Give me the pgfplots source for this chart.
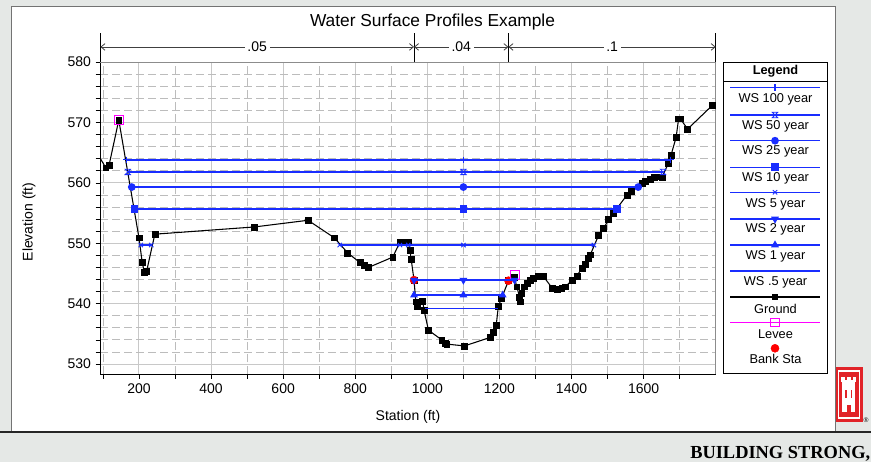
\documentclass[border=0pt]{standalone}
\usepackage{fontspec}
\setmainfont{Liberation Sans}
\newfontfamily\serifbold{Liberation Serif}
\usepackage{pgfplots}
\pgfplotsset{compat=1.18}
\usepackage{pgfplotstable}
\usetikzlibrary{arrows.meta}

\definecolor{bg}{RGB}{229,232,230}
\definecolor{wsblue}{RGB}{25,45,255}
\definecolor{leveec}{RGB}{255,0,255}
\definecolor{gridmaj}{RGB}{200,200,200}
\definecolor{gridmin}{RGB}{188,188,188}
\definecolor{logored}{RGB}{225,35,40}

\pgfdeclareplotmark{hourglass}{%
  \pgfpathmoveto{\pgfqpoint{-\pgfplotmarksize}{\pgfplotmarksize}}%
  \pgfpathlineto{\pgfqpoint{\pgfplotmarksize}{\pgfplotmarksize}}%
  \pgfpathlineto{\pgfqpoint{-\pgfplotmarksize}{-\pgfplotmarksize}}%
  \pgfpathlineto{\pgfqpoint{\pgfplotmarksize}{-\pgfplotmarksize}}%
  \pgfpathclose
  \pgfusepathqstroke}

\pgfplotstableread{
x y
93 564.0
108 562.5
117 562.9
144 570.4
200 550.9
209 546.8
215 545.2
221 545.3
244 551.5
521 552.7
669 553.8
742 550.9
779 548.4
813 546.8
824 546.4
837 546.0
904 547.7
924 550.2
938 550.2
947 550.2
952 548.8
955 547.4
963 543.9
968 540.3
972 539.5
987 540.4
991 538.9
1003 535.6
1040 534.0
1049 533.5
1054 533.3
1103 533.0
1174 534.4
1183 535.3
1191 536.4
1197 539.6
1206 540.9
1225 543.8
1242 544.3
1248 542.8
1256 541.1
1258 540.3
1262 541.7
1269 542.8
1276 543.4
1285 543.9
1295 544.2
1308 544.5
1322 544.5
1346 542.6
1360 542.4
1373 542.5
1383 542.8
1401 543.9
1415 544.6
1429 545.9
1438 546.5
1447 547.5
1452 548.1
1475 551.3
1489 552.5
1503 553.9
1515 554.9
1554 558.0
1565 558.6
1595 560.0
1604 560.2
1619 560.6
1630 560.9
1644 561.0
1651 560.9
1669 563.3
1676 564.6
1690 567.5
1697 570.6
1702 570.6
1722 568.9
1790 572.8
1800 573.3
}\ground

\begin{document}
\begin{tikzpicture}[x=0.75pt,y=0.75pt]
\useasboundingbox (0,0) rectangle (871,462);
\fill[bg] (0,0) rectangle (871,462);
% logo
\fill[logored] (830,40) rectangle (863,95);
\draw[white, line width=0.9pt] (838.5,44) rectangle (859.5,91);
\fill[white] (842,50) rectangle (855,80);
\fill[white] (841,80) rectangle (856,85);
\fill[logored] (844.5,82) rectangle (846.5,85);
\fill[logored] (850.5,82) rectangle (852.5,85);
\fill[logored] (846.5,50) rectangle (850.5,57);
\fill[logored] (845,64) rectangle (846.5,72);
\fill[logored] (850.5,64) rectangle (852,72);
\node[font=\fontsize{5}{6}\selectfont, inner sep=0pt] at (866,42) {®};
% panel
\fill[white, draw=black!55, line width=0.6pt] (11,30) rectangle (835,456);
\draw[black!85, line width=0.8pt] (0,30) -- (871,30);
\node[anchor=base west, inner sep=0pt, font=\serifbold\bfseries\fontsize{13.8}{15}\selectfont] at (690,4) {BUILDING STRONG,};
% titles
\node[font=\fontsize{13}{15}\selectfont] at (432.5,440) {Water Surface Profiles Example};
\node[font=\fontsize{10.5}{12}\selectfont] at (408,45) {Station (ft)};
\node[rotate=90, font=\fontsize{10.5}{12}\selectfont] at (29,240) {Elevation (ft)};

\begin{axis}[
  at={(75.3pt,65.775pt)}, anchor=south west,
  scale only axis, width=461.5pt, height=234.2pt,
  xmin=93, xmax=1800, ymin=528.3, ymax=580,
  xtick={200,400,...,1600}, minor xtick={100,300,...,1700},
  ytick={530,540,...,580},
  minor ytick={532,534,536,538,542,544,546,548,552,554,556,558,562,564,566,568,572,574,576,578},
  tick pos=left, tick align=outside,
  major tick length=3.5pt, minor tick length=3.5pt,
  tick style={black, line width=0.5pt},
  grid=both,
  major grid style={gridmaj, line width=0.75pt},
  minor grid style={gridmin, line width=0.6pt, dash pattern=on 6pt off 3pt},
  axis line style={draw=none},
  ticklabel style={font=\fontsize{10.5}{12}\selectfont},
  /pgf/number format/assume math mode=true,
  /pgf/number format/1000 sep={},
  clip mode=individual,
]
\draw[black, line width=0.6pt] (rel axis cs:0,1) -- (rel axis cs:0,0) -- (rel axis cs:1,0);
\draw[black!45, line width=0.6pt] (rel axis cs:0,1) -- (rel axis cs:1,1) -- (rel axis cs:1,0);
% Manning's n annotation
\draw[black, line width=0.6pt] (axis cs:93,580) -- (axis cs:93,584.8);
\draw[black, line width=0.6pt] (axis cs:963,580) -- (axis cs:963,584.8);
\draw[black, line width=0.6pt] (axis cs:1225,580) -- (axis cs:1225,584.8);
\draw[black, line width=0.6pt] (axis cs:1800,580) -- (axis cs:1800,584.8);
\draw[black!75, line width=0.6pt, {Straight Barb[length=3pt,width=5pt]}-{Straight Barb[length=3pt,width=5pt]}]
  (axis cs:93,582.5) -- node[fill=white, inner sep=2pt, text=black, font=\fontsize{10.5}{12}\selectfont] {.05} (axis cs:963,582.5);
\draw[black!75, line width=0.6pt, {Straight Barb[length=3pt,width=5pt]}-{Straight Barb[length=3pt,width=5pt]}]
  (axis cs:963,582.5) -- node[fill=white, inner sep=2pt, text=black, font=\fontsize{10.5}{12}\selectfont] {.04} (axis cs:1225,582.5);
\draw[black!75, line width=0.6pt, {Straight Barb[length=3pt,width=5pt]}-{Straight Barb[length=3pt,width=5pt]}]
  (axis cs:1225,582.5) -- node[fill=white, inner sep=2pt, text=black, font=\fontsize{10.5}{12}\selectfont] {.1} (axis cs:1800,582.5);

% Ground
\addplot[black, line width=0.8pt, mark=none] table[x=x,y=y] {\ground};
\addplot[only marks, mark=square*, mark size=2.2pt, black, restrict x to domain=100:1795] table[x=x,y=y] {\ground};
% Bank stations
\addplot[only marks, mark=*, mark size=3pt, red] coordinates {(963,543.9) (1225,543.8)};
% Levees
\addplot[only marks, mark=square, mark size=3.2pt, leveec, mark options={line width=0.75pt}] coordinates {(144,570.4) (1243,544.7)};
% Water surfaces
\addplot[wsblue, line width=1.15pt, mark=+, mark size=2.5pt, mark options={line width=0.8pt}] coordinates {(165,563.8) (1100,563.8) (1674,563.8)};
\addplot[wsblue, line width=1.15pt, mark=hourglass, mark size=2pt, mark options={line width=0.6pt}] coordinates {(169,561.8) (1100,561.8) (1654,561.8)};
\addplot[wsblue, line width=1.15pt, mark=*, mark size=2.3pt] coordinates {(180,559.3) (1100,559.3) (1585,559.3)};
\addplot[wsblue, line width=1.15pt, mark=square*, mark size=2.3pt] coordinates {(188,555.7) (1100,555.7) (1526,555.7)};
\addplot[wsblue, line width=1.15pt, mark=x, mark size=2.3pt, mark options={line width=0.7pt}] coordinates {(205,549.7) (234,549.7)};
\addplot[wsblue, line width=1.15pt, mark=x, mark size=2.3pt, mark options={line width=0.7pt}] coordinates {(757,549.7) (924,549.7) (947,549.7) (1100,549.7) (1462,549.7)};
\addplot[wsblue, line width=1.15pt, mark=triangle*, mark size=2.3pt, mark options={rotate=180}] coordinates {(963,543.9) (1100,543.9) (1242,543.9)};
\addplot[wsblue, line width=1.15pt, mark=triangle*, mark size=2.3pt] coordinates {(963,541.4) (1100,541.4) (1209,541.4)};
\addplot[wsblue, line width=1.15pt, mark=none] coordinates {(994,539.2) (1197,539.2)};
\end{axis}

% Legend drawn in its own axis
\begin{axis}[
  at={(542.775pt,66.525pt)}, anchor=south west,
  scale only axis, width=77.7pt, height=233.25pt,
  xmin=723.7, xmax=827.3, ymin=62.3, ymax=373.3, y dir=reverse,
  xtick=\empty, ytick=\empty,
  axis line style={black, line width=0.75pt},
  clip=false,
]
\draw[black, line width=0.6pt] (axis cs:723.7,81) -- (axis cs:827.3,81);
\node[font=\bfseries\fontsize{9.6}{11}\selectfont] at (axis cs:775.5,70.8) {Legend};
\addplot[wsblue, line width=1.15pt, mark=+, mark size=2.5pt, mark options={line width=0.8pt}, mark indices={2}] coordinates {(730,87.7) (775,87.7) (820,87.7)};
\node[font=\fontsize{9.6}{11}\selectfont] at (axis cs:775.5,99.3) {WS 100 year};
\addplot[wsblue, line width=1.15pt, mark=hourglass, mark size=2pt, mark options={line width=0.6pt}, mark indices={2}] coordinates {(730,115) (775,115) (820,115)};
\node[font=\fontsize{9.6}{11}\selectfont] at (axis cs:775.5,126) {WS 50 year};
\addplot[wsblue, line width=1.15pt, mark=*, mark size=2.3pt, mark indices={2}] coordinates {(730,140.7) (775,140.7) (820,140.7)};
\node[font=\fontsize{9.6}{11}\selectfont] at (axis cs:775.5,151.7) {WS 25 year};
\addplot[wsblue, line width=1.15pt, mark=square*, mark size=2.3pt, mark indices={2}] coordinates {(730,167.3) (775,167.3) (820,167.3)};
\node[font=\fontsize{9.6}{11}\selectfont] at (axis cs:775.5,178.3) {WS 10 year};
\addplot[wsblue, line width=1.15pt, mark=x, mark size=2.3pt, mark options={line width=0.7pt}, mark indices={2}] coordinates {(730,192.3) (775,192.3) (820,192.3)};
\node[font=\fontsize{9.6}{11}\selectfont] at (axis cs:775.5,204) {WS 5 year};
\addplot[wsblue, line width=1.15pt, mark=triangle*, mark size=2.3pt, mark options={rotate=180}, mark indices={2}] coordinates {(730,219) (775,219) (820,219)};
\node[font=\fontsize{9.6}{11}\selectfont] at (axis cs:775.5,229.3) {WS 2 year};
\addplot[wsblue, line width=1.15pt, mark=triangle*, mark size=2.3pt, mark indices={2}] coordinates {(730,245) (775,245) (820,245)};
\node[font=\fontsize{9.6}{11}\selectfont] at (axis cs:775.5,256.7) {WS 1 year};
\addplot[wsblue, line width=1.15pt, mark=none] coordinates {(730,271) (820,271)};
\node[font=\fontsize{9.6}{11}\selectfont] at (axis cs:775.5,282.7) {WS .5 year};
\addplot[black, line width=0.8pt, mark=square*, mark size=2.2pt, mark indices={2}] coordinates {(730,297) (775,297) (820,297)};
\node[font=\fontsize{9.6}{11}\selectfont] at (axis cs:775.5,309.3) {Ground};
\addplot[leveec, line width=0.75pt, mark=square, mark size=3.2pt, mark indices={2}] coordinates {(730,322.3) (775,322.3) (820,322.3)};
\node[font=\fontsize{9.6}{11}\selectfont] at (axis cs:775.5,333.7) {Levee};
\addplot[only marks, red, mark=*, mark size=3pt] coordinates {(775,348.3)};
\node[font=\fontsize{9.6}{11}\selectfont] at (axis cs:775.5,359) {Bank Sta};
\end{axis}
\end{tikzpicture}
\end{document}
